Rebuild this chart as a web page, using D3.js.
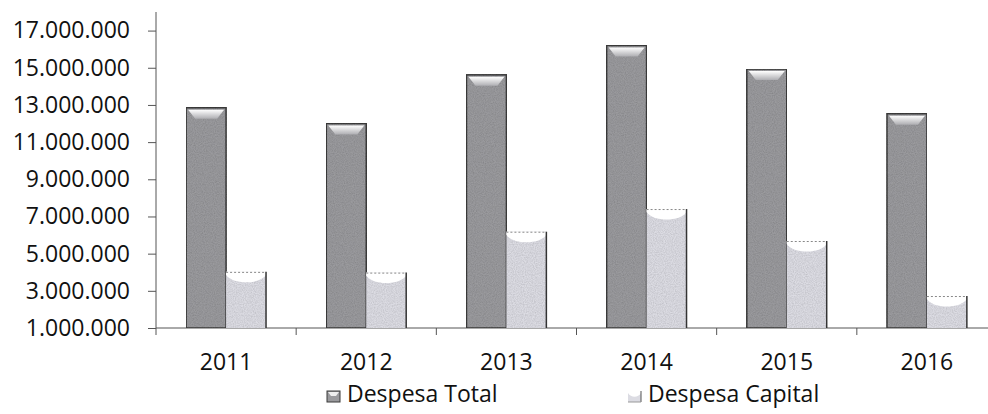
<!DOCTYPE html>
<html><head><meta charset="utf-8">
<script src="https://cdn.jsdelivr.net/npm/d3@7"></script>
<style>html,body{margin:0;padding:0;background:#fff;}svg{display:block;}</style>
</head><body>
<svg id="c" width="988" height="414"></svg>
<script>
const years = ["2011","2012","2013","2014","2015","2016"];
const despesaTotal = [12850000, 12000000, 14620000, 16200000, 14930000, 12530000];
const despesaCapital = [4020000, 3980000, 6180000, 7400000, 5680000, 2720000];
const seriesNames = ["Despesa Total", "Despesa Capital"];
const yTicks = [1000000,3000000,5000000,7000000,9000000,11000000,13000000,15000000,17000000];

const svg = d3.select("#c");
const font = "'Open Sans', sans-serif";
const loc = d3.formatLocale({decimal:",", thousands:".", grouping:[3], currency:["",""]});
const fmt = loc.format(",");

const x = d3.scaleBand().domain(years).range([156, 997]).paddingInner(0.43).paddingOuter(0.215);
const x1 = d3.scaleBand().domain(seriesNames).range([0, x.bandwidth()]);
const y = d3.scaleLinear().domain([1000000, 18000000]).range([328, 12]);

const defs = svg.append("defs");
const f = defs.append("filter").attr("id","noise").attr("x",0).attr("y",0).attr("width",1).attr("height",1);
f.append("feTurbulence").attr("type","fractalNoise").attr("baseFrequency",0.9).attr("numOctaves",2).attr("seed",3).attr("result","t");
f.append("feColorMatrix").attr("in","t").attr("type","matrix")
  .attr("values","0 0 0 0 0  0 0 0 0 0  0 0 0 0 0  0 0 0 -1.4 1.0").attr("result","n");
f.append("feComposite").attr("in","n").attr("in2","SourceGraphic").attr("operator","in").attr("result","m");
f.append("feComponentTransfer").attr("in","m").attr("result","m2").append("feFuncA").attr("type","linear").attr("slope",0.3);
const fm = f.append("feMerge");
fm.append("feMergeNode").attr("in","SourceGraphic");
fm.append("feMergeNode").attr("in","m2");

const gTop = defs.append("linearGradient").attr("id","bevel").attr("x1",0).attr("y1",0).attr("x2",0).attr("y2",1);
gTop.append("stop").attr("offset","0%").attr("stop-color","#ffffff");
gTop.append("stop").attr("offset","100%").attr("stop-color","#aeaeb2");

// Y axis
const yAxis = d3.axisLeft(y).tickValues(yTicks).tickFormat(fmt).tickSize(8).tickPadding(18);
const gy = svg.append("g").attr("transform","translate(156,0)").call(yAxis);
gy.select(".domain").attr("stroke","#555").attr("d","M0,12V328");
gy.selectAll(".tick line").attr("stroke","#555");
gy.selectAll(".tick text").attr("font-family",font).attr("font-size","23px").attr("fill","#111");

// X axis
const xAxis = d3.axisBottom(x).tickSize(0).tickPadding(0);
const gx = svg.append("g").attr("transform","translate(0,328)").call(xAxis);
gx.select(".domain").attr("stroke","#555").attr("d","M156,0H988");
gx.selectAll(".tick text").attr("font-family",font).attr("font-size","23px").attr("fill","#111").attr("dy","1.82em");
const bounds = years.map(d => x(d) - x.step()*x.paddingInner()/2).concat([x(years[years.length-1]) + x.bandwidth() + x.step()*x.paddingInner()/2]);
gx.selectAll(".bnd").data(bounds).enter().append("line").attr("class","bnd")
  .attr("x1",d=>d).attr("x2",d=>d).attr("y1",0).attr("y2",7).attr("stroke","#555");

// Bars
const data = years.map((yr,i)=>({yr, total:despesaTotal[i], cap:despesaCapital[i]}));
const bw = x1.bandwidth();
const gb = svg.append("g");
data.forEach(d => {
  // Despesa Total
  const x0 = x(d.yr) + x1("Despesa Total");
  const yt = y(d.total), yb = y(1000000);
  gb.append("rect").attr("x",x0).attr("y",yt).attr("width",bw).attr("height",yb-yt)
    .attr("fill","#9a9a9d").attr("stroke","#3a3a3a").attr("stroke-width",1.5).attr("filter","url(#noise)");
  gb.append("path").attr("d",`M${x0+2},${yt+2}H${x0+bw-2}L${x0+bw-9},${yt+11}H${x0+9}Z`)
    .attr("fill","url(#bevel)");
  // Despesa Capital
  const xc = x(d.yr) + x1("Despesa Capital");
  const yc = y(d.cap);
  gb.append("rect").attr("x",xc).attr("y",yc).attr("width",bw).attr("height",yb-yc)
    .attr("fill","#dcdce3").attr("filter","url(#noise)");
  gb.append("path").attr("d",`M${xc},${yc}H${xc+bw}V${yc+3}C${xc+bw-6},${yc+13} ${xc+6},${yc+13} ${xc},${yc+3}Z`)
    .attr("fill","#ffffff");
  gb.append("line").attr("x1",xc).attr("x2",xc+bw).attr("y1",yc+0.5).attr("y2",yc+0.5)
    .attr("stroke","#888").attr("stroke-dasharray","2,2").attr("stroke-width",1);
  gb.append("line").attr("x1",xc+bw).attr("x2",xc+bw).attr("y1",yc).attr("y2",yb)
    .attr("stroke","#333").attr("stroke-width",1.5);
});

// Legend
const leg = svg.append("g");
const legX = [327, 628];
seriesNames.forEach((n,i)=>{
  const g = leg.append("g").attr("transform",`translate(${legX[i]},0)`);
  if(i===0){
    g.append("rect").attr("x",0).attr("y",391).attr("width",13).attr("height",11).attr("fill","#9a9a9d").attr("stroke","#3a3a3a");
    g.append("path").attr("d","M1,392H12L9,396H4Z").attr("fill","#eee");
  } else {
    g.append("rect").attr("x",0).attr("y",391).attr("width",13).attr("height",11).attr("fill","#dcdce3");
    g.append("path").attr("d","M0,391H13V393C10,398 3,398 0,393Z").attr("fill","#fff");
    g.append("line").attr("x1",13).attr("x2",13).attr("y1",391).attr("y2",402).attr("stroke","#555");
    g.append("line").attr("x1",0).attr("x2",13).attr("y1",402).attr("y2",402).attr("stroke","#999");
  }
  g.append("text").attr("x",20).attr("y",402).attr("font-family",font).attr("font-size","23px")
    .attr("fill","#111").text(n);
});
</script>
</body></html>
